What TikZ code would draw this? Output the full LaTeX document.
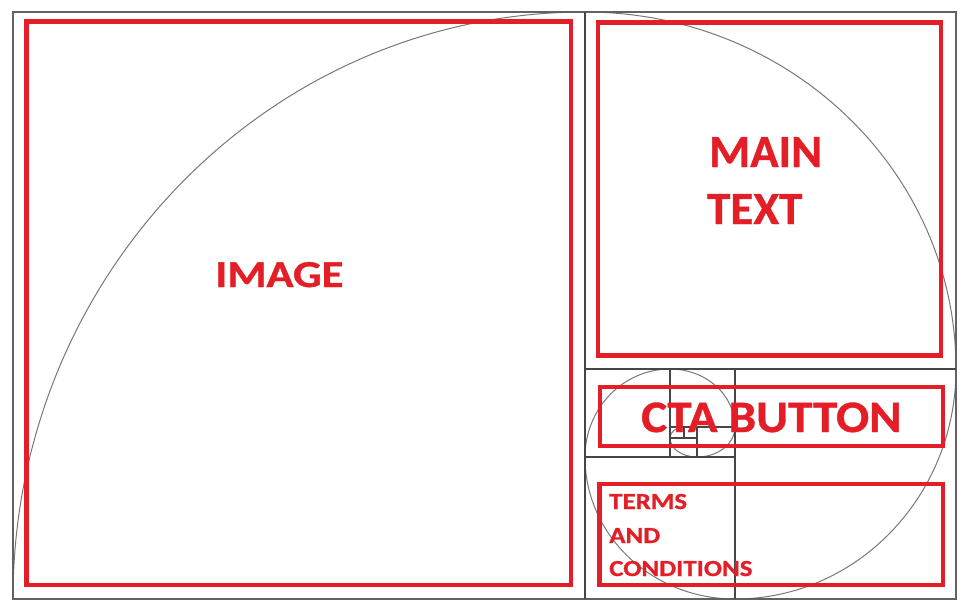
\documentclass[tikz,border=0pt]{standalone}
\usepackage{fontspec}
\setmainfont{Carlito}[BoldFeatures={FakeBold=0.8}]
\definecolor{boxred}{RGB}{228,30,38}
\definecolor{gridgray}{RGB}{70,70,70}
\definecolor{spiralgray}{RGB}{120,120,120}
\tikzset{
  redbox/.style={draw=boxred, line width=4.6pt},
  gridline/.style={draw=gridgray, line width=1.3pt},
  outerline/.style={draw=gridgray!85, line width=2pt},
  spiral/.style={draw=spiralgray, line width=1pt},
  lbl/.style={text=boxred, font=\bfseries, inner sep=0pt, anchor=base west},
}
\begin{document}
\begin{tikzpicture}[x=1pt,y=1pt]
\useasboundingbox[fill=white] (0,0) rectangle (968,-611);
% spiral
\draw[spiral] (13,-599)
  arc[start angle=180, end angle=90, x radius=572, y radius=587]
  arc[start angle=90, end angle=0, x radius=371, y radius=357]
  arc[start angle=0, end angle=-90, x radius=221, y radius=230]
  arc[start angle=-90, end angle=-180, x radius=150, y radius=142]
  arc[start angle=180, end angle=90, x radius=85, y radius=88]
  arc[start angle=90, end angle=0, x radius=65, y radius=58]
  arc[start angle=0, end angle=-90, x radius=38, y radius=30]
  arc[start angle=-90, end angle=-180, x radius=27, y radius=19]
  arc[start angle=180, end angle=90, x radius=14, y radius=11];
% golden rectangle grid
\draw[outerline] (13,-12) rectangle (956,-599);
\draw[gridline] (585,-12) -- (585,-599);
\draw[gridline] (585,-369) -- (956,-369);
\draw[gridline] (735,-369) -- (735,-599);
\draw[gridline] (585,-457) -- (735,-457);
\draw[gridline] (670,-369) -- (670,-457);
\draw[gridline] (670,-427) -- (735,-427);
\draw[gridline] (697,-427) -- (697,-457);
\draw[gridline] (670,-438) -- (697,-438);
\draw[gridline] (684,-427) -- (684,-438);
% red boxes
\draw[redbox] (26.5,-21.5) rectangle (571,-585);
\draw[redbox] (598,-22.5) rectangle (941,-355.5);
\draw[redbox] (600,-387) rectangle (943,-446);
\draw[redbox] (599.5,-484) rectangle (943,-585);
% labels
\node[lbl, font=\fontsize{38}{38}\selectfont\bfseries, xscale=1.18] (image) at (215,-287) {IMAGE};
\node[lbl, font=\fontsize{46}{46}\selectfont\bfseries, xscale=1.02] (main1) at (709,-167) {MAIN};
\node[lbl, font=\fontsize{46}{46}\selectfont\bfseries, xscale=1.02] (main2) at (707,-224) {TEXT};
\node[lbl, font=\fontsize{45}{45}\selectfont\bfseries, xscale=1.09] (cta) at (641,-432) {CTA BUTTON};
\node[lbl, font=\fontsize{23}{23}\selectfont\bfseries, xscale=1.17] (t1) at (609,-509) {TERMS};
\node[lbl, font=\fontsize{23}{23}\selectfont\bfseries, xscale=1.17] (t2) at (609,-543) {AND};
\node[lbl, font=\fontsize{23}{23}\selectfont\bfseries, xscale=1.17] (t3) at (609,-576) {CONDITIONS};
\end{tikzpicture}
\end{document}
